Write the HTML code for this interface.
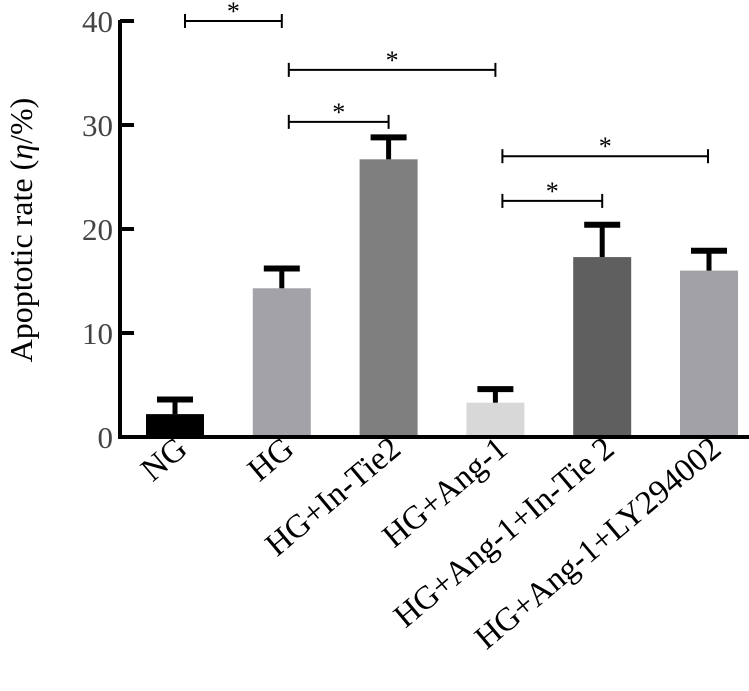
<!DOCTYPE html>
<html><head><meta charset="utf-8"><style>
body{margin:0;background:#fff}
svg text{font-family:"Liberation Serif",serif}
</style></head><body>
<svg id="c" width="749" height="686"></svg>
<script>
const categories=["NG","HG","HG+In-Tie2","HG+Ang-1","HG+Ang-1+In-Tie 2","HG+Ang-1+LY294002"];
const values=[2.2,14.3,26.7,3.3,17.3,16.0];
const errors=[1.6,2.1,2.3,1.5,3.3,2.1];
const colors=["#000000","#a2a2a8","#7f7f7f","#d8d8d8","#5f5f5f","#a2a2a6"];
const ticks=[0,10,20,30,40];
const sigPairs=[[0,1,40],[1,3,35.3],[1,2,30.3],[3,5,27],[3,4,22.7]];
const NS="http://www.w3.org/2000/svg";
const svg=document.getElementById('c');
const y=v=>437-v*10.4;
const x=i=>175+i*106.8;
function mk(t,a,p){const e=document.createElementNS(NS,t);for(const k in a)e.setAttribute(k,a[k]);(p||svg).appendChild(e);return e;}
categories.forEach((c,i)=>{
 const b=mk('rect',{x:x(i)-29,y:y(values[i]),width:58,height:y(0)-y(values[i]),fill:colors[i]});
 
 
 const t=y(values[i]+errors[i]);
 const s=mk('line',{x1:x(i),x2:x(i),y1:y(values[i]),y2:t,stroke:'#000','stroke-width':5});
 
 
 mk('line',{x1:x(i)-18,x2:x(i)+18,y1:t+2,y2:t+2,stroke:'#000','stroke-width':6});
 const lx=x(i)+14, ly=452;
 const l=mk('text',{x:lx,y:ly,'font-size':33,'text-anchor':'end',transform:`rotate(-40 ${lx} ${ly})`});
 l.textContent=c;
 
 
});
mk('line',{x1:120,x2:120,y1:20,y2:439,stroke:'#000','stroke-width':4});
mk('line',{x1:118,x2:749,y1:437,y2:437,stroke:'#000','stroke-width':4});
ticks.forEach(v=>{
 mk('line',{x1:120,x2:134,y1:y(v),y2:y(v),stroke:'#000','stroke-width':4});
 const t=mk('text',{x:113,y:y(v)+11,'font-size':31,'text-anchor':'end',fill:'#444'});
 t.textContent=v;
 
 
});
const yt=mk('text',{x:32,y:230,'font-size':32,'text-anchor':'middle',transform:'rotate(-90 32 230)'});
yt.innerHTML='Apoptotic rate (<tspan font-style="italic">η</tspan>/%)';


sigPairs.forEach((p,k)=>{
 const x1=x(p[0])+(p[0]===0?10:7),x2=x(p[1])+(p[1]===5?-1:0),yy=y(p[2]);
 const g=mk('g',{});
 
 
 mk('line',{x1:x1,x2:x2,y1:yy,y2:yy,stroke:'#000','stroke-width':2},g);
 mk('line',{x1:x1,x2:x1,y1:yy-7,y2:yy+7,stroke:'#000','stroke-width':2},g);
 mk('line',{x1:x2,x2:x2,y1:yy-7,y2:yy+7,stroke:'#000','stroke-width':2},g);
 const s=mk('text',{x:(x1+x2)/2,y:yy-1,'font-size':26,'text-anchor':'middle'},g);
 s.textContent='*';
});
</script>
</body></html>
